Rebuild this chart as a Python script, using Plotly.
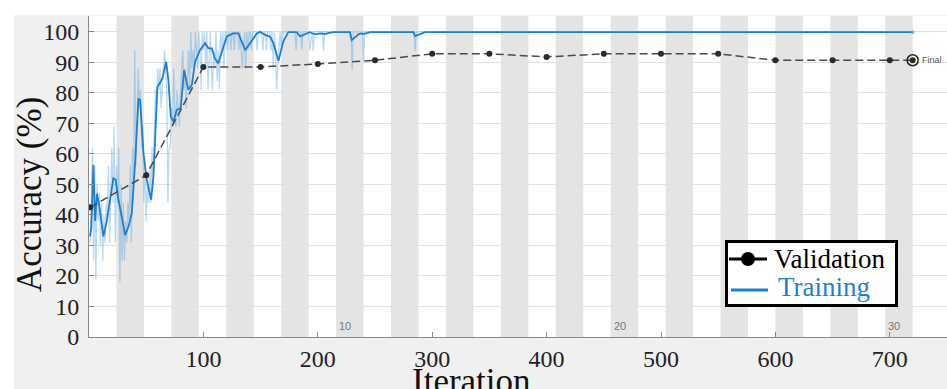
import plotly.graph_objects as go

# ---------------- data ----------------
iters_per_epoch = 24
n_epochs = 30
epoch_labels = [10, 20, 30]

# smoothed training accuracy (keypoints)
train_smooth_iter = [1, 2, 3.8, 5.3, 7, 9, 12.6, 15.5, 18, 21.3, 23.3, 25.7, 28.6, 31.6, 34.5, 37.4,
                     40.3, 41.8, 43.2, 44.7, 47.6, 50.5, 54.3, 56.3, 57.8, 59.8, 62.8, 64.5, 67.4,
                     69.4, 71.5, 73.8, 76.7, 80.2, 83.1, 86.9, 89.9, 92.7, 97, 101.5, 104.4, 107.3,
                     110, 113, 116, 120.5, 126, 130.6, 136.5, 142, 146.7, 149.6, 154, 158.3, 161.2,
                     165.6, 170, 174.3, 181.6, 184.5, 190, 193, 196, 199, 202, 206.4, 209, 213.6,
                     228, 229.7, 235.5, 238, 240, 245.7, 283.6, 285, 293.8, 720]
train_smooth_acc = [33, 36, 56.4, 38, 47, 43, 33, 37.8, 44, 52, 51.5, 45, 39.5, 33.4, 36.2, 40.5,
                    57, 71, 78, 77.7, 60.3, 51.5, 45, 52.5, 64.6, 82, 83.7, 85.3, 90.2,
                    84.2, 72.2, 70.6, 74.4, 75, 87.5, 81, 82.6, 90.2, 94, 96.3, 94.6, 94.6,
                    91.3, 89.7, 93.3, 98.5, 99.5, 99.5, 94, 96.8, 99.5, 100, 99, 98.4, 96.3,
                    90.5, 97, 99.9, 99.9, 98.5, 99.5, 99.9, 99.4, 99.2, 99.5, 99.3, 99.6, 99.9,
                    99.9, 97.3, 99.2, 99.5, 99.3, 99.9, 99.9, 98.6, 99.9, 99.9]

# raw (per-iteration) training accuracy, iterations 1..193
train_raw_acc = [
    31, 44, 62, 25, 56, 19, 50, 38, 47, 30,
    44, 25, 40, 31, 44, 38, 56, 31, 50, 62,
    44, 69, 31, 56, 44, 62, 18, 50, 25, 44,
    25, 38, 31, 44, 38, 56, 31, 62, 50, 94,
    56, 75, 88, 75, 81, 62, 69, 44, 56, 38,
    50, 44, 56, 44, 62, 50, 69, 81, 75, 88,
    81, 88, 75, 81, 88, 94, 88, 81, 44, 62,
    62, 75, 69, 88, 75, 69, 81, 75, 69, 81,
    88, 94, 81, 88, 75, 88, 94, 81, 100, 88,
    94, 88, 100, 94, 88, 100, 94, 81, 100, 94,
    100, 88, 100, 81, 94, 100, 88, 81, 94, 88,
    100, 84, 94, 81, 100, 94, 100, 88, 100, 100,
    94, 100, 100, 94, 100, 100, 94, 100, 100, 100,
    94, 100, 94, 88, 94, 100, 88, 100, 94, 100,
    100, 94, 100, 100, 100, 100, 94, 100, 100, 100,
    100, 94, 100, 100, 94, 100, 100, 100, 94, 100,
    88, 100, 94, 81, 88, 94, 100, 94, 100, 100,
    100, 100, 100, 100, 100, 100, 100, 100, 100, 100,
    94, 100, 100, 100, 100, 94, 100, 100, 100, 100,
    100, 100, 94]
# later single-iteration dips of the raw curve (otherwise 100 %)
raw_dip_iter = [196, 205, 230, 240, 285]
raw_dip_acc = [93.75, 93.75, 87.5, 90.6, 93.75]
last_iter = 720

# validation accuracy
val_iter = [1, 50, 100, 150, 200, 250, 300, 350, 400, 450, 500, 550, 600, 650, 700, 720]
val_acc = [42.5, 53, 88.5, 88.5, 89.5, 90.7, 92.8, 92.8, 91.8, 92.8, 92.8, 92.8, 90.7, 90.7, 90.7, 90.7]

x_ticks = [100, 200, 300, 400, 500, 600, 700]
y_ticks = [0, 10, 20, 30, 40, 50, 60, 70, 80, 90, 100]

# ---------------- build raw series ----------------
raw_x = list(range(1, len(train_raw_acc) + 1))
raw_y = list(train_raw_acc)
for d, v in zip(raw_dip_iter, raw_dip_acc):
    raw_x += [d - 1, d, d + 1]
    raw_y += [100, v, 100]
raw_x.append(last_iter)
raw_y.append(100)

BLUE = "#1f7fcf"
SERIF = "Liberation Serif"
ML, MT, PW, PH = 89, 16, 858, 321


def px(xp):
    return (xp - ML) / PW


def py(yp):
    return (MT + PH - yp) / PH


fig = go.Figure()

fig.add_trace(go.Scatter(x=raw_x, y=raw_y, mode="lines",
                         line=dict(color="rgba(90,165,225,0.42)", width=1.3),
                         showlegend=False, hoverinfo="skip"))
fig.add_trace(go.Scatter(x=train_smooth_iter, y=train_smooth_acc, mode="lines",
                         line=dict(color=BLUE, width=1.8),
                         showlegend=False))
fig.add_trace(go.Scatter(x=[train_smooth_iter[-1]], y=[train_smooth_acc[-1]], mode="markers",
                         marker=dict(color="rgba(90,165,225,0.6)", size=4),
                         showlegend=False))
fig.add_trace(go.Scatter(x=val_iter, y=val_acc, mode="lines+markers",
                         line=dict(color="#4a4a4a", width=1.5, dash="8px,4px"),
                         marker=dict(color="#2b2b2b", size=6),
                         showlegend=False))
fig.add_trace(go.Scatter(x=[val_iter[-1]], y=[val_acc[-1]], mode="markers",
                         marker=dict(symbol="circle-open-dot", size=11, color="#222",
                                     line=dict(width=1.5, color="#222")),
                         showlegend=False))

shapes = []
# white strips at top / left of the (grey) figure background
shapes.append(dict(type="rect", xref="paper", yref="paper", x0=px(-20), x1=px(14),
                   y0=py(420), y1=py(-20), fillcolor="white", line=dict(width=0), layer="below"))
shapes.append(dict(type="rect", xref="paper", yref="paper", x0=px(-20), x1=px(960),
                   y0=py(15), y1=py(-20), fillcolor="white", line=dict(width=0), layer="below"))
# epoch bands
for e in range(2, n_epochs + 1, 2):
    shapes.append(dict(type="rect", xref="x", yref="paper",
                       x0=(e - 1) * iters_per_epoch, x1=e * iters_per_epoch, y0=0, y1=1,
                       fillcolor="#e4e4e4", line=dict(width=0), layer="below"))

# legend (drawn manually)
shapes.append(dict(type="rect", xref="paper", yref="paper", x0=px(726.5), x1=px(896.5),
                   y0=py(305.5), y1=py(241.5), fillcolor="white",
                   line=dict(color="black", width=3), layer="above"))
shapes.append(dict(type="line", xref="paper", yref="paper", x0=px(729), x1=px(767),
                   y0=py(259), y1=py(259), line=dict(color="black", width=3), layer="above"))
shapes.append(dict(type="circle", xref="paper", yref="paper", x0=px(741), x1=px(755),
                   y0=py(266), y1=py(252), fillcolor="black", line=dict(color="black", width=0),
                   layer="above"))
shapes.append(dict(type="line", xref="paper", yref="paper", x0=px(731), x1=px(768),
                   y0=py(290), y1=py(290), line=dict(color=BLUE, width=3), layer="above"))

annotations = []
annotations.append(dict(x=px(772), y=py(259), xref="paper", yref="paper", text="Validation",
                        showarrow=False, xanchor="left", yanchor="middle",
                        font=dict(family=SERIF, size=27, color="black")))
annotations.append(dict(x=px(776), y=py(287), xref="paper", yref="paper", text="Training",
                        showarrow=False, xanchor="left", yanchor="middle",
                        font=dict(family=SERIF, size=27, color=BLUE)))
for e in epoch_labels:
    annotations.append(dict(x=(e - 1) * iters_per_epoch + 8, y=py(326),
                            xref="x", yref="paper", text=str(e), showarrow=False,
                            xanchor="center", yanchor="middle",
                            font=dict(family="Liberation Sans", size=11, color="#777")))
annotations.append(dict(x=val_iter[-1], y=val_acc[-1], xref="x", yref="y", text="Final",
                        showarrow=False, xanchor="left", xshift=7,
                        font=dict(family="Liberation Sans", size=9, color="#555")))
annotations.append(dict(x=px(471), y=py(360), xref="paper", yref="paper",
                        text="Iteration", showarrow=False, xanchor="center", yanchor="top",
                        font=dict(family=SERIF, size=35, color="#111")))
annotations.append(dict(x=px(30), y=py(195), xref="paper", yref="paper",
                        text="Accuracy (%)", showarrow=False, textangle=-90,
                        xanchor="center", yanchor="middle",
                        font=dict(family=SERIF, size=35, color="#111")))

fig.update_layout(
    width=947, height=389,
    margin=dict(l=ML, r=0, t=MT, b=389 - MT - PH),
    paper_bgcolor="#f0f0f0", plot_bgcolor="white",
    shapes=shapes, annotations=annotations,
    showlegend=False,
    xaxis=dict(range=[0, 750], tickvals=x_ticks, ticks="inside", ticklen=5,
               tickcolor="#888", showline=True, linecolor="#888", linewidth=1,
               showgrid=False, zeroline=False, automargin=False,
               tickfont=dict(family=SERIF, size=24, color="#222")),
    yaxis=dict(range=[0, 105.2], tickvals=y_ticks, ticks="inside", ticklen=5,
               tickcolor="#888", showline=True, linecolor="#888", linewidth=1,
               showgrid=True, gridcolor="#e2e2e2", gridwidth=1, zeroline=False,
               ticklabelstandoff=4, automargin=False,
               tickfont=dict(family=SERIF, size=24, color="#222")),
)

fig.write_html("out.html", config={"displayModeBar": False},
               post_script="document.body.style.margin='0px';")
